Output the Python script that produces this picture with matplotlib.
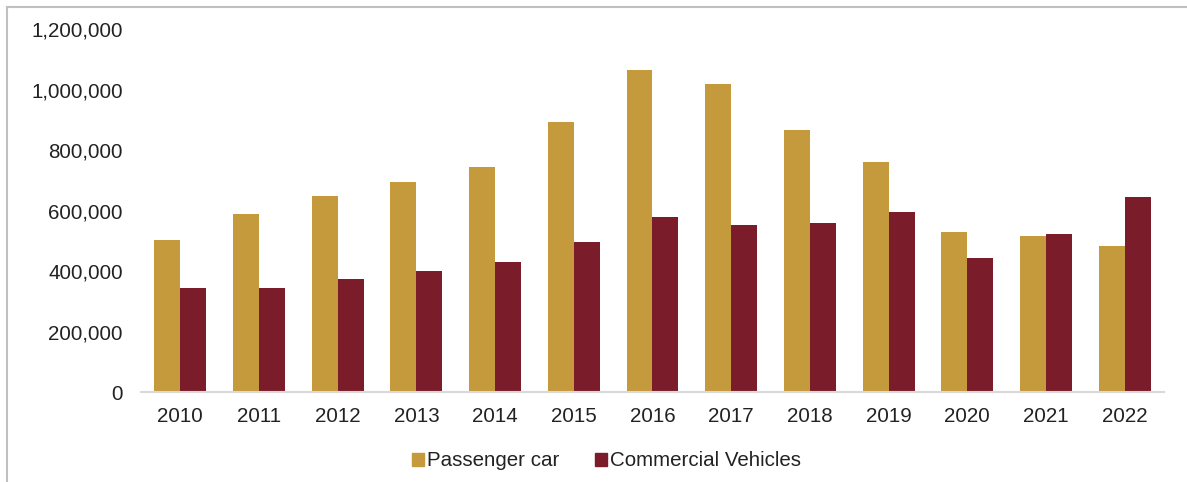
import matplotlib.pyplot as plt
import numpy as np
from matplotlib.lines import Line2D
from matplotlib.patches import Patch
from matplotlib.ticker import FuncFormatter

years = ["2010", "2011", "2012", "2013", "2014", "2015", "2016",
         "2017", "2018", "2019", "2020", "2021", "2022"]
passenger_car = [502000, 589000, 648000, 694000, 744000, 893000, 1064000,
                 1017000, 865000, 761000, 530000, 517000, 484000]
commercial_vehicles = [344000, 344000, 373000, 400000, 430000, 496000, 580000,
                       552000, 560000, 595000, 444000, 523000, 645000]

pc_color = "#C59A3C"
cv_color = "#7B1C2A"
text_color = "#222222"

plt.rcParams['font.family'] = ['Liberation Sans', 'DejaVu Sans']

fig = plt.figure(figsize=(11.87, 4.82), dpi=100)
ax = fig.add_axes([0.1188, 0.1867, 0.8618, 0.7531])

x = np.arange(len(years))
width = 0.33
ax.bar(x - width / 2, passenger_car, width, color=pc_color, label="Passenger car")
ax.bar(x + width / 2, commercial_vehicles, width, color=cv_color, label="Commercial Vehicles")

ax.set_xlim(-0.5, len(years) - 0.5)
ax.set_ylim(0, 1200000)
ax.set_yticks(np.arange(0, 1200001, 200000))
ax.yaxis.set_major_formatter(FuncFormatter(lambda v, p: f"{int(v):,}"))
ax.set_xticks(x)
ax.set_xticklabels(years)

for side in ["top", "right", "left"]:
    ax.spines[side].set_visible(False)
ax.spines["bottom"].set_color("#d9d9d9")
ax.spines["bottom"].set_linewidth(1.5)
ax.tick_params(axis="both", length=0, labelsize=14.8, colors=text_color)
ax.tick_params(axis="y", pad=13)
ax.tick_params(axis="x", pad=11)

# legend below the plot
handles = [Patch(color=pc_color, label="Passenger car"),
           Patch(color=cv_color, label="Commercial Vehicles")]
fig.legend(handles=handles, loc="center", bbox_to_anchor=(0.511, 0.044),
           ncol=2, frameon=False, fontsize=14.8, handlelength=0.6,
           handleheight=0.6, handletextpad=0.15, columnspacing=1.7,
           labelcolor=text_color)

# outer chart frame (left and top edges)
frame_x = 7 / 1187
frame_y = 1 - 7 / 482
fig.add_artist(Line2D([frame_x, frame_x], [0, frame_y], transform=fig.transFigure,
                      color="#c0c0c0", linewidth=1.5))
fig.add_artist(Line2D([frame_x, 1], [frame_y, frame_y], transform=fig.transFigure,
                      color="#c0c0c0", linewidth=1.5))

fig.savefig("out.png", dpi=100)
